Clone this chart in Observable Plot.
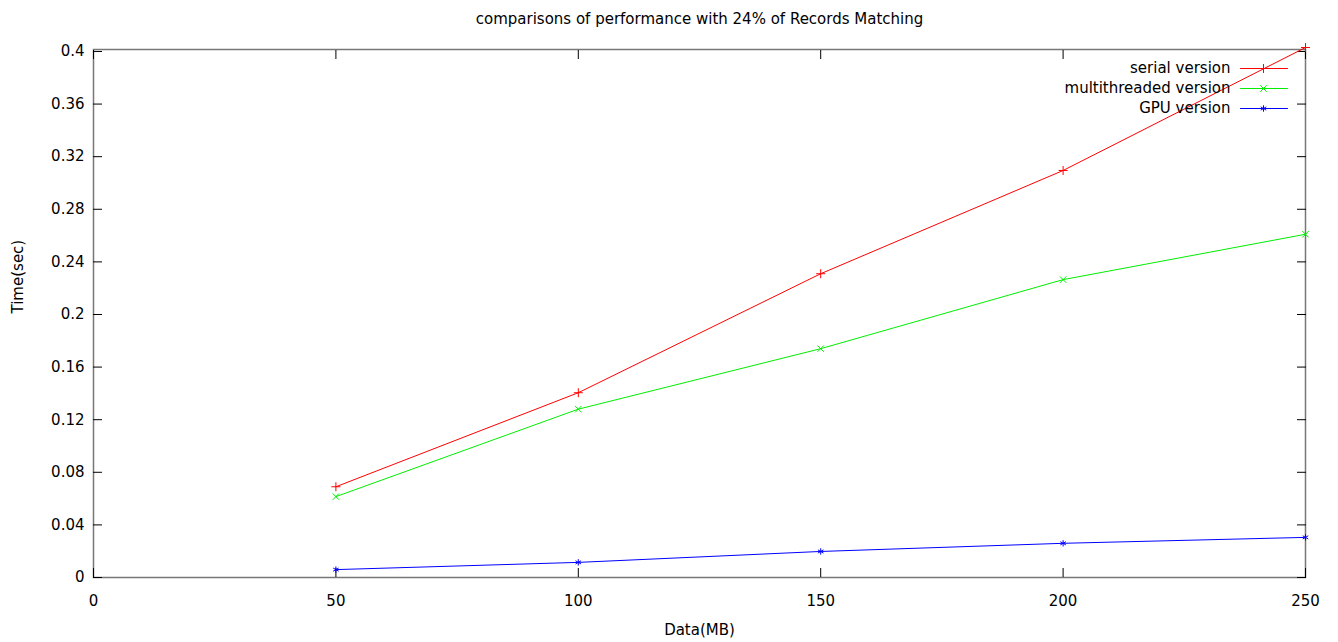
<!DOCTYPE html>
<html>
<head>
<meta charset="utf-8">
<script src="https://cdn.jsdelivr.net/npm/d3@7"></script>
<script src="https://cdn.jsdelivr.net/npm/@observablehq/plot@0.6"></script>
<style>
  html, body { margin: 0; padding: 0; background: #fff; }
  #chart svg { display: block; }
</style>
</head>
<body>
<div id="chart"></div>
<script>
const sizes = [50, 100, 150, 200, 250];
const serial = [0.069, 0.1405, 0.231, 0.3095, 0.403];
const multithreaded = [0.0615, 0.128, 0.174, 0.2265, 0.261];
const gpu = [0.006, 0.0115, 0.0198, 0.026, 0.0305];
const seriesNames = ["serial version", "multithreaded version", "GPU version"];
const seriesColors = ["#ff0000", "#00ee00", "#0000ff"];
const seriesSymbols = ["plus", "times", "asterisk"];
const yTicks = [0, 0.04, 0.08, 0.12, 0.16, 0.2, 0.24, 0.28, 0.32, 0.36, 0.4];
const xTicks = [0, 50, 100, 150, 200, 250];

const allSeries = [serial, multithreaded, gpu];
const data = allSeries.flatMap((vals, i) =>
  vals.map((v, j) => ({series: seriesNames[i], size: sizes[j], time: v})));

const font = "DejaVu Sans, Verdana, sans-serif";
const fs = 15;
const lineShape = {draw(ctx, l) { ctx.moveTo(0, 0); ctx.lineTo(0, -l); }};

const legendMarks = seriesNames.flatMap((name, i) => [
  Plot.text([name], {text: d => d, frameAnchor: "top-right", dx: -75, dy: 19 + 20 * i,
    textAnchor: "end", lineAnchor: "middle", fill: "#000", fontSize: fs}),
  Plot.vector([0], {frameAnchor: "top-right", dx: -65, dy: 19 + 20 * i, length: 47,
    rotate: 90, anchor: "start", shape: lineShape, stroke: seriesColors[i], strokeWidth: 1}),
  Plot.dot([0], {frameAnchor: "top-right", dx: -42, dy: 19 + 20 * i, r: 3,
    symbol: seriesSymbols[i], stroke: seriesColors[i], strokeWidth: 1})
]);

const chart = Plot.plot({
  width: 1338,
  height: 642,
  marginLeft: 93,
  marginRight: 33,
  marginTop: 49,
  marginBottom: 65,
  style: {fontFamily: font, fontSize: fs + "px", color: "#000", background: "#fff"},
  x: {domain: [0, 250], label: null},
  y: {domain: [0, 0.4015], label: null},
  color: {domain: seriesNames, range: seriesColors},
  symbol: {domain: seriesNames, range: seriesSymbols},
  marks: [
    Plot.frame({stroke: "#777", strokeWidth: 1.5}),
    Plot.axisY({ticks: yTicks, tickSize: -9, tickPadding: 18, tickFormat: d => String(d), stroke: "#000", fontSize: fs}),
    Plot.axisY({anchor: "right", ticks: yTicks, tickSize: -9, tickFormat: () => "", label: null, stroke: "#000"}),
    Plot.axisX({ticks: xTicks, tickSize: -9, tickPadding: 27, tickFormat: d => String(d), stroke: "#000", fontSize: fs}),
    Plot.axisX({anchor: "top", ticks: xTicks, tickSize: -9, tickFormat: () => "", label: null, stroke: "#000"}),
    Plot.line(data, {x: "size", y: "time", z: "series", stroke: "series", strokeWidth: 1}),
    Plot.dot(data, {x: "size", y: "time", symbol: "series", stroke: "series", r: 3, strokeWidth: 1}),
    ...legendMarks,
    Plot.text(["comparisons of performance with 24% of Records Matching"], {text: d => d,
      frameAnchor: "top", dy: -30, lineAnchor: "middle", fill: "#000", fontSize: fs}),
    Plot.text(["Data(MB)"], {text: d => d, frameAnchor: "bottom", dy: 53, lineAnchor: "middle", fill: "#000", fontSize: fs}),
    Plot.text(["Time(sec)"], {text: d => d, frameAnchor: "left", dx: -75, rotate: -90, lineAnchor: "middle", fill: "#000", fontSize: fs})
  ]
});
document.getElementById("chart").appendChild(chart);
</script>
</body>
</html>
